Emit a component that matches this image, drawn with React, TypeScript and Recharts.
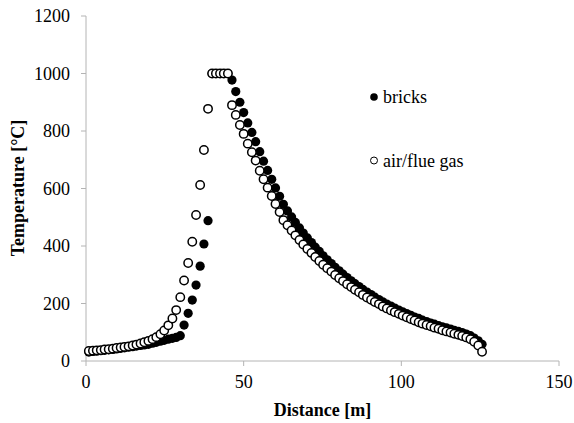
import React from 'react';
import { ScatterChart, Scatter, XAxis, YAxis } from 'recharts';

const distance = [
  0.9, 2.2, 3.4, 4.7, 5.9, 7.2, 8.5, 9.7, 11.0, 12.2,
  13.5, 14.8, 16.0, 17.3, 18.5, 19.8, 21.1, 22.3, 23.6, 24.8,
  26.1, 27.4, 28.6, 29.9, 31.1, 32.4, 33.7, 34.9, 36.2, 37.4,
  38.7, 40.0, 41.2, 42.5, 43.7, 45.0, 46.3, 47.5, 48.8, 50.0,
  51.3, 52.6, 53.8, 55.1, 56.3, 57.6, 58.9, 60.1, 61.4, 62.6,
  63.9, 65.2, 66.4, 67.7, 68.9, 70.2, 71.5, 72.7, 74.0, 75.2,
  76.5, 77.8, 79.0, 80.3, 81.5, 82.8, 84.1, 85.3, 86.6, 87.8,
  89.1, 90.4, 91.6, 92.9, 94.1, 95.4, 96.7, 97.9, 99.2, 100.4,
  101.7, 103.0, 104.2, 105.5, 106.7, 108.0, 109.3, 110.5, 111.8, 113.0,
  114.3, 115.6, 116.8, 118.1, 119.3, 120.6, 121.9, 123.1, 124.4, 125.6,
];

const bricks = [
  31, 33, 34, 36, 37, 39, 40, 42, 44, 46,
  48, 50, 52, 54, 56, 58, 62, 65, 69, 72,
  76, 79, 82, 88, 125, 166, 212, 264, 330, 407,
  488, 1000, 1000, 1000, 1000, 1000, 977, 937, 900, 864,
  828, 795, 763, 728, 695, 663, 632, 602, 573, 545,
  522, 501, 482, 463, 445, 428, 412, 396, 381, 366,
  352, 339, 326, 314, 302, 290, 279, 269, 259, 249,
  240, 231, 222, 214, 206, 198, 191, 184, 177, 171,
  165, 159, 153, 148, 142, 137, 132, 128, 123, 119,
  115, 111, 107, 103, 99, 94, 88, 80, 70, 58,
];

const airFlueGas = [
  35, 36, 37, 38, 40, 41, 43, 45, 47, 49,
  51, 54, 57, 61, 65, 70, 76, 83, 93, 106,
  124, 148, 177, 222, 280, 341, 415, 508, 612, 734,
  877, 1000, 1000, 1000, 1000, 1000, 890, 856, 821, 790,
  756, 726, 697, 662, 632, 603, 574, 546, 518, 490,
  472, 454, 437, 421, 405, 390, 376, 362, 348, 335,
  323, 311, 299, 288, 278, 267, 257, 248, 239, 230,
  221, 213, 205, 198, 190, 183, 176, 170, 164, 158,
  152, 146, 141, 135, 130, 125, 121, 116, 112, 107,
  103, 99, 95, 91, 87, 82, 76, 67, 54, 32,
];

const xTicks = [0, 50, 100, 150];
const yTicks = [0, 200, 400, 600, 800, 1000, 1200];
const seriesNames = ['bricks', 'air/flue gas'];

const bricksData = distance.map((x, i) => ({ x, y: bricks[i] }));
const airData = distance.map((x, i) => ({ x, y: airFlueGas[i] }));

const FONT = 'Liberation Serif, Times New Roman, serif';
const AXIS = '#b4b4b4';

const FilledDot = (p: any) => <circle cx={p.cx} cy={p.cy} r={4.6} fill="#000" />;
const OpenDot = (p: any) => (
  <circle cx={p.cx} cy={p.cy} r={4.2} fill="#fff" stroke="#000" strokeWidth={1.5} />
);

export default function App() {
  return (
    <div style={{ position: 'relative', width: 574, height: 423, background: '#fff', fontFamily: FONT }}>
      <style>{`body{margin:0;background:#fff}`}</style>
      <ScatterChart width={574} height={423} margin={{ top: 16, right: 15, bottom: 2, left: 26 }}>
        <XAxis
          type="number"
          dataKey="x"
          domain={[0, 150]}
          ticks={xTicks}
          height={60}
          tickSize={5}
          tickMargin={9}
          stroke={AXIS}
          tick={{ fill: '#000', fontSize: 18, fontFamily: FONT }}
          label={() => (
            <text x={322.5} y={416} textAnchor="middle" fontFamily={FONT} fontSize={18} fontWeight="bold" fill="#000">
              Distance [m]
            </text>
          )}
        />
        <YAxis
          type="number"
          dataKey="y"
          domain={[0, 1200]}
          ticks={yTicks}
          width={60}
          tickSize={5}
          tickMargin={11}
          stroke={AXIS}
          tick={{ fill: '#000', fontSize: 18, fontFamily: FONT }}
          label={() => (
            <text
              x={24}
              y={188}
              transform="rotate(-90, 24, 188)"
              textAnchor="middle"
              fontFamily={FONT}
              fontSize={18}
              fontWeight="bold"
              fill="#000"
            >
              Temperature [°C]
            </text>
          )}
        />
        <Scatter name={seriesNames[0]} data={bricksData} shape={FilledDot} isAnimationActive={false} />
        <Scatter name={seriesNames[1]} data={airData} shape={OpenDot} isAnimationActive={false} />
      </ScatterChart>
      <svg width={574} height={423} style={{ position: 'absolute', left: 0, top: 0, pointerEvents: 'none' }}>
        <circle cx={374} cy={97} r={3.8} fill="#000" />
        <text x={383} y={103} fontFamily={FONT} fontSize={18} fill="#000">{seriesNames[0]}</text>
        <circle cx={374} cy={160.5} r={3.5} fill="#fff" stroke="#000" strokeWidth={1} />
        <text x={383} y={166.5} fontFamily={FONT} fontSize={18} fill="#000">{seriesNames[1]}</text>
      </svg>
    </div>
  );
}
